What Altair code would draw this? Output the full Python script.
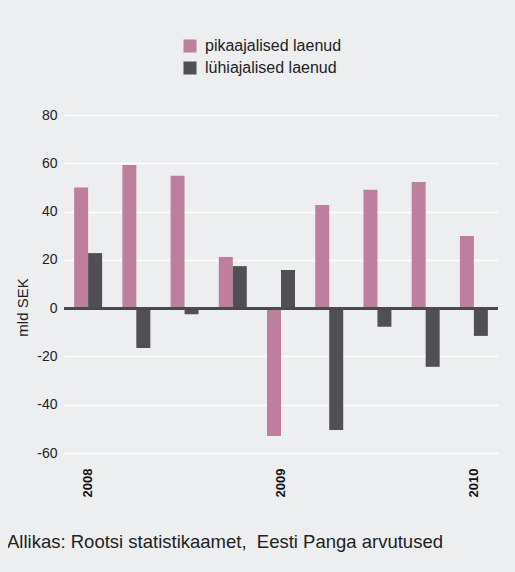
import altair as alt
import pandas as pd

quarters = ["2008 I", "2008 II", "2008 III", "2008 IV", "2009 I", "2009 II",
            "2009 III", "2009 IV", "2010 I"]
long_term = [50, 59.3, 54.8, 21.2, -53, 42.7, 49, 52.3, 29.9]
short_term = [22.8, -16.5, -2.5, 17.4, 15.8, -50.5, -7.7, -24.3, -11.5]
series = ["pikaajalised laenud", "lühiajalised laenud"]
colors = ["#be7f9d", "#4f4f54"]
y_ticks = [-60, -40, -20, 0, 20, 40, 60, 80]
source_text = "Allikas: Rootsi statistikaamet,\u00a0 Eesti Panga arvutused"
BG = "#edeef0"

rows = []
for q, a, b in zip(quarters, long_term, short_term):
    rows.append({"q": q, "s": series[0], "v": a})
    rows.append({"q": q, "s": series[1], "v": b})
df = pd.DataFrame(rows)

font = "Liberation Sans"

bars = alt.Chart(df).mark_bar().encode(
    x=alt.X("q:N", sort=quarters, title=None,
            scale=alt.Scale(paddingInner=0.42, paddingOuter=0.21),
            axis=alt.Axis(labelExpr="substring(datum.label, 5) == 'I' ? substring(datum.label, 0, 4) : ''",
                          labelAngle=-90, labelFontWeight="bold", labelFontSize=13,
                          labelColor="#111", labelPadding=15, ticks=False, domain=False,
                          grid=False, labelFont=font)),
    xOffset=alt.XOffset("s:N", sort=series),
    y=alt.Y("v:Q", scale=alt.Scale(domain=[-60, 80], nice=False),
            title="mld SEK",
            axis=alt.Axis(values=y_ticks, ticks=False, labelExpr="'' + datum.value",
                          domain=False, labelPadding=7, labelFontSize=14,
                          labelColor="#222", labelFont=font, gridColor="#ffffff",
                          gridWidth=1.5, titleFontWeight="normal", titleFontSize=15,
                          titleColor="#222", titleFont=font, titleY=192,
                          titlePadding=6)),
    color=alt.Color("s:N", sort=series,
                    scale=alt.Scale(domain=series, range=colors),
                    legend=alt.Legend(title=None, orient="none", legendX=118, legendY=-77,
                                      symbolType="square", symbolSize=169,
                                      labelFontSize=16, labelFont=font, labelColor="#222",
                                      labelOffset=7, rowPadding=6, symbolStrokeWidth=0)),
)

zero = alt.Chart(df).mark_rule(color="#4a4a4f", strokeWidth=2).encode(y=alt.datum(0))

chart = alt.layer(bars, zero).properties(
    width=434, height=338,
    autosize=alt.AutoSizeParams(type="none"),
    padding={"left": 56, "top": 107, "right": 9, "bottom": 111},
    background=BG,
    title=alt.TitleParams(source_text,
                          orient="bottom", anchor="start", frame="group", dx=-57,
                          offset=36, fontSize=18.5, fontWeight="normal", color="#222",
                          font=font),
).configure_view(stroke=None, fill=BG)


class _BgTemplate:
    def __init__(self, base):
        self.base = base

    def render(self, **kw):
        html = self.base.render(**kw)
        return html.replace("<head>", "<head><style>html,body{background:%s;}</style>" % BG, 1)


try:
    from altair.utils.html import TEMPLATES
    tmpl = _BgTemplate(TEMPLATES["standard"])
    chart.save("out.html", embed_options={"renderer": "svg", "actions": False}, template=tmpl)
except Exception:
    chart.save("out.html", embed_options={"renderer": "svg", "actions": False})
